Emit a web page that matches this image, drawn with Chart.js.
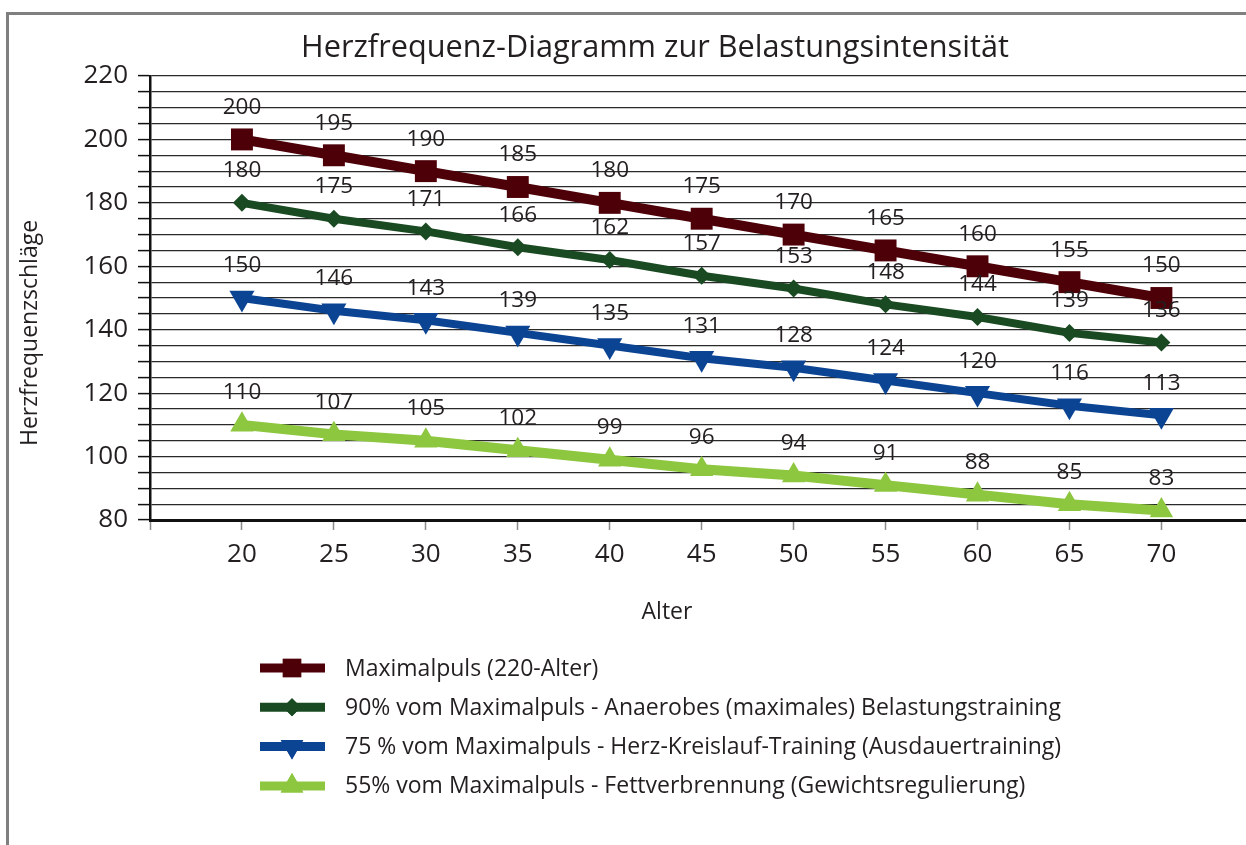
<!DOCTYPE html>
<html>
<head>
<meta charset="utf-8">
<script src="https://cdn.jsdelivr.net/npm/chart.js@4/dist/chart.umd.min.js"></script>
<style>
html,body{margin:0;padding:0;background:#fff;}
canvas{display:block;}
</style>
</head>
<body>
<canvas id="c" width="1246" height="845"></canvas>
<script>
const titleText = 'Herzfrequenz-Diagramm zur Belastungsintensität';
const xTitle = 'Alter';
const yTitle = 'Herzfrequenzschläge';
const ages = [20, 25, 30, 35, 40, 45, 50, 55, 60, 65, 70];
const yTickLabels = [80, 100, 120, 140, 160, 180, 200, 220];
const maxPuls = [200, 195, 190, 185, 180, 175, 170, 165, 160, 155, 150];
const puls90 = [180, 175, 171, 166, 162, 157, 153, 148, 144, 139, 136];
const puls75 = [150, 146, 143, 139, 135, 131, 128, 124, 120, 116, 113];
const puls55 = [110, 107, 105, 102, 99, 96, 94, 91, 88, 85, 83];
const seriesLabels = [
  'Maximalpuls (220-Alter)',
  '90% vom Maximalpuls - Anaerobes (maximales) Belastungstraining',
  '75 % vom Maximalpuls - Herz-Kreislauf-Training (Ausdauertraining)',
  '55% vom Maximalpuls - Fettverbrennung (Gewichtsregulierung)'
];

const FONT = "'Open Sans', 'Noto Sans', sans-serif";
const TEXT = '#231f20';

function pts(vals){ return vals.map((v,i)=>({x: ages[i], y: v})); }

const datasets = [
  {label: seriesLabels[0], data: pts(maxPuls), borderColor:'#4d0008', backgroundColor:'#4d0008', borderWidth:10, pointStyle:'rect', pointRadius:15.5, pointRotation:0, legendRadius:13},
  {label: seriesLabels[1], data: pts(puls90), borderColor:'#1a4a22', backgroundColor:'#1a4a22', borderWidth:8, pointStyle:'rectRot', pointRadius:9, pointRotation:0, legendRadius:9},
  {label: seriesLabels[2], data: pts(puls75), borderColor:'#0c4494', backgroundColor:'#0c4494', borderWidth:8, pointStyle:'triangle', pointRadius:14.5, pointRotation:180, legendRadius:13},
  {label: seriesLabels[3], data: pts(puls55), borderColor:'#8dc63f', backgroundColor:'#8dc63f', borderWidth:10, pointStyle:'triangle', pointRadius:13.5, pointRotation:0, legendRadius:13}
].map(d => Object.assign(d, {pointHoverRadius:d.pointRadius, pointBorderWidth:0, tension:0, fill:false, clip:false}));

const framePlugin = {
  id:'frame',
  beforeDraw(chart){
    const ctx = chart.ctx;
    ctx.save();
    ctx.fillStyle = '#fff';
    ctx.fillRect(0,0,chart.width,chart.height);
    ctx.strokeStyle = '#7f7f7f';
    ctx.lineWidth = 3;
    ctx.beginPath();
    ctx.moveTo(7.5, 845);
    ctx.lineTo(7.5, 13.5);
    ctx.lineTo(1246, 13.5);
    ctx.stroke();
    ctx.restore();
  }
};

const textPlugin = {
  id:'texts',
  afterDatasetsDraw(chart){
    const ctx = chart.ctx;
    ctx.save();
    ctx.fillStyle = TEXT;
    ctx.textAlign = 'center';
    ctx.textBaseline = 'middle';
    ctx.font = '22.5px ' + FONT;
    chart.data.datasets.forEach((ds, di) => {
      const meta = chart.getDatasetMeta(di);
      meta.data.forEach((el, i) => {
        ctx.fillText(String(ds.data[i].y), el.x, el.y - 32);
      });
    });
    ctx.restore();
  },
  afterDraw(chart){
    const ctx = chart.ctx;
    ctx.save();
    ctx.fillStyle = TEXT;
    ctx.textAlign = 'center';
    ctx.textBaseline = 'middle';
    ctx.font = '30.7px ' + FONT;
    ctx.fillText(titleText, 655, 48);
    ctx.font = '23px ' + FONT;
    ctx.fillText(xTitle, 667, 612);
    ctx.save();
    ctx.translate(30, 333);
    ctx.rotate(-Math.PI/2);
    ctx.fillText(yTitle, 0, 0);
    ctx.restore();
    // legend
    chart.data.datasets.forEach((ds, i) => {
      const y = 668 + i * 39.3;
      ctx.strokeStyle = ds.borderColor;
      ctx.lineWidth = 9;
      ctx.beginPath();
      ctx.moveTo(260, y);
      ctx.lineTo(325, y);
      ctx.stroke();
      ctx.fillStyle = ds.backgroundColor;
      Chart.helpers.drawPoint(ctx, {pointStyle: ds.pointStyle, rotation: ds.pointRotation, radius: ds.legendRadius, borderWidth: 0}, 292, y);
      ctx.fill();
      ctx.fillStyle = TEXT;
      ctx.textAlign = 'left';
      ctx.font = '23px ' + FONT;
      ctx.fillText(ds.label, 345, y + 1);
    });
    ctx.restore();
  }
};

function build(){
  new Chart(document.getElementById('c'), {
    type:'line',
    data:{datasets},
    plugins:[framePlugin, textPlugin],
    options:{
      responsive:false,
      animation:false,
      events:[],
      layout:{autoPadding:false, padding:{top:76, left:0, right:0, bottom:0}},
      plugins:{legend:{display:false}, title:{display:false}, tooltip:{enabled:false}},
      scales:{
        x:{
          type:'linear', min:15, max:74.6,
          afterFit(s){ s.height = 325; s.paddingLeft = 0; s.paddingRight = 0; },
          ticks:{stepSize:5, includeBounds:false, autoSkip:false, maxRotation:0, padding:9,
            color:TEXT, font:{family:FONT, size:26},
            callback:(v)=> ages.includes(v) ? String(v) : ''},
          grid:{drawOnChartArea:false, drawTicks:true, tickLength:10, tickColor:'#8a8a8a', tickWidth:1.5},
          border:{color:'#111', width:3}
        },
        y:{
          type:'linear', min:80, max:220,
          afterFit(s){ s.width = 150; s.paddingTop = 0; s.paddingBottom = 0; },
          ticks:{stepSize:5, autoSkip:false, padding:10, color:TEXT, font:{family:FONT, size:26},
            callback:(v)=> yTickLabels.includes(v) ? String(v) : ''},
          grid:{color:'#2a2a2a', lineWidth:1.2, drawTicks:true, tickLength:12, tickColor:'#111', tickWidth:1.5},
          border:{color:'#111', width:2.5}
        }
      }
    }
  });
}
if (document.fonts && document.fonts.load) {
  Promise.all([document.fonts.load("22px 'Open Sans'")]).then(build, build);
} else build();
</script>
</body>
</html>
